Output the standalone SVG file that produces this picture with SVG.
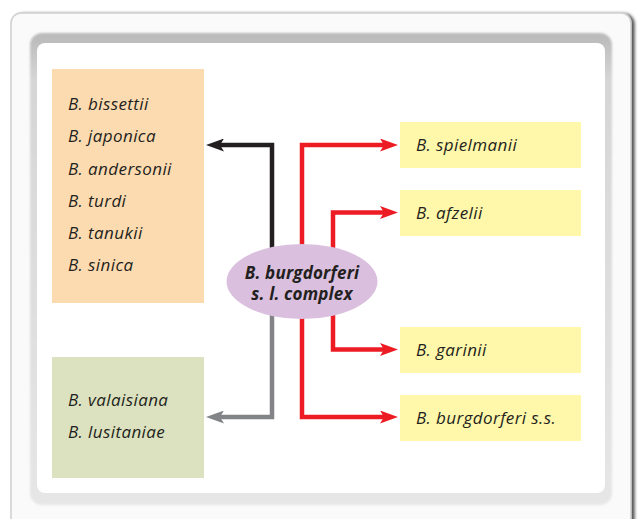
<svg xmlns="http://www.w3.org/2000/svg" width="638" height="519" viewBox="0 0 638 519">
  <defs>
    <style>
      .lbl { font-family: "Open Sans", "Liberation Sans", sans-serif; font-style: italic; font-size: 17px; letter-spacing: 0.4px; fill: #231f20; }
      .ctr { font-family: "Open Sans", "Liberation Sans", sans-serif; font-style: italic; font-weight: bold; font-size: 17px; letter-spacing: 0.2px; fill: #231f20; text-anchor: middle; }
      .ln { fill: none; stroke-width: 4.5; stroke-linejoin: miter; }
    </style>
    <linearGradient id="ring" x1="0" y1="0" x2="0" y2="1">
      <stop offset="0" stop-color="#b9b9b9"/>
      <stop offset="0.1" stop-color="#d6d6d6"/>
      <stop offset="1" stop-color="#e6e6e6"/>
    </linearGradient>
    <filter id="sh" x="-5%" y="-5%" width="110%" height="110%">
      <feDropShadow dx="3" dy="1" stdDeviation="1.5" flood-color="#444" flood-opacity="0.9"/>
    </filter>
    <filter id="bl" x="-5%" y="-5%" width="110%" height="110%">
      <feGaussianBlur stdDeviation="1.2"/>
    </filter>
    <marker id="aRed" viewBox="0 0 18 13" refX="8" refY="6.5" markerWidth="18" markerHeight="13" markerUnits="userSpaceOnUse" orient="auto">
      <path d="M0,0 L18,6.5 L0,13 L4,6.5 Z" fill="#ed1c24"/>
    </marker>
    <marker id="aBlack" viewBox="0 0 18 13" refX="8" refY="6.5" markerWidth="18" markerHeight="13" markerUnits="userSpaceOnUse" orient="auto">
      <path d="M0,0 L18,6.5 L0,13 L4,6.5 Z" fill="#231f20"/>
    </marker>
    <marker id="aGray" viewBox="0 0 18 13" refX="8" refY="6.5" markerWidth="18" markerHeight="13" markerUnits="userSpaceOnUse" orient="auto">
      <path d="M0,0 L18,6.5 L0,13 L4,6.5 Z" fill="#838487"/>
    </marker>
  </defs>

  <rect width="638" height="519" fill="#ffffff"/>

  <g id="frame">
    <rect x="11" y="13" width="620" height="540" rx="10" fill="#fafafa" stroke="#d0d0d0" stroke-width="1.5" filter="url(#sh)"/>
    <rect x="30" y="33" width="582" height="472" rx="12" fill="url(#ring)" filter="url(#bl)"/>
    <rect x="37" y="43" width="568" height="450" rx="8" fill="#ffffff"/>
  </g>

  <g id="connectors">
    <path class="ln" d="M272,250 V145 H216" stroke="#231f20" marker-end="url(#aBlack)"/>
    <path class="ln" d="M272,312 V417 H216" stroke="#838487" marker-end="url(#aGray)"/>
    <path class="ln" d="M302,250 V145 H388" stroke="#ed1c24" marker-end="url(#aRed)"/>
    <path class="ln" d="M333,255 V212.5 H388" stroke="#ed1c24" marker-end="url(#aRed)"/>
    <path class="ln" d="M333,308 V349.5 H388" stroke="#ed1c24" marker-end="url(#aRed)"/>
    <path class="ln" d="M302,312 V417 H388" stroke="#ed1c24" marker-end="url(#aRed)"/>
  </g>

  <g id="group-left-top">
    <rect x="52" y="69" width="152" height="234" fill="#fddbb1"/>
    <text class="lbl" x="68" y="110">B. bissettii</text>
    <text class="lbl" x="68" y="142.2">B. japonica</text>
    <text class="lbl" x="68" y="174.5">B. andersonii</text>
    <text class="lbl" x="68" y="206.8">B. turdi</text>
    <text class="lbl" x="68" y="239">B. tanukii</text>
    <text class="lbl" x="68" y="271.3">B. sinica</text>
  </g>

  <g id="group-left-bottom">
    <rect x="52" y="357" width="152" height="121" fill="#dce2bf"/>
    <text class="lbl" x="68" y="406">B. valaisiana</text>
    <text class="lbl" x="68" y="438">B. lusitaniae</text>
  </g>

  <g id="spielmanii">
    <rect x="400" y="122" width="181" height="46" fill="#fff7aa"/>
    <text class="lbl" x="416" y="151">B. spielmanii</text>
  </g>
  <g id="afzelii">
    <rect x="400" y="190" width="181" height="46" fill="#fff7aa"/>
    <text class="lbl" x="416" y="218.5">B. afzelii</text>
  </g>
  <g id="garinii">
    <rect x="400" y="327" width="181" height="46" fill="#fff7aa"/>
    <text class="lbl" x="416" y="355.5">B. garinii</text>
  </g>
  <g id="burgdorferi-ss">
    <rect x="400" y="395" width="181" height="46" fill="#fff7aa"/>
    <text class="lbl" x="416" y="423.5">B. burgdorferi s.s.</text>
  </g>

  <g id="complex">
    <ellipse cx="302" cy="281.5" rx="75.5" ry="37.5" fill="#dac0de"/>
    <text class="ctr" x="302" y="278.5">B. burgdorferi</text>
    <text class="ctr" x="302" y="300">s. l. complex</text>
  </g>
</svg>
